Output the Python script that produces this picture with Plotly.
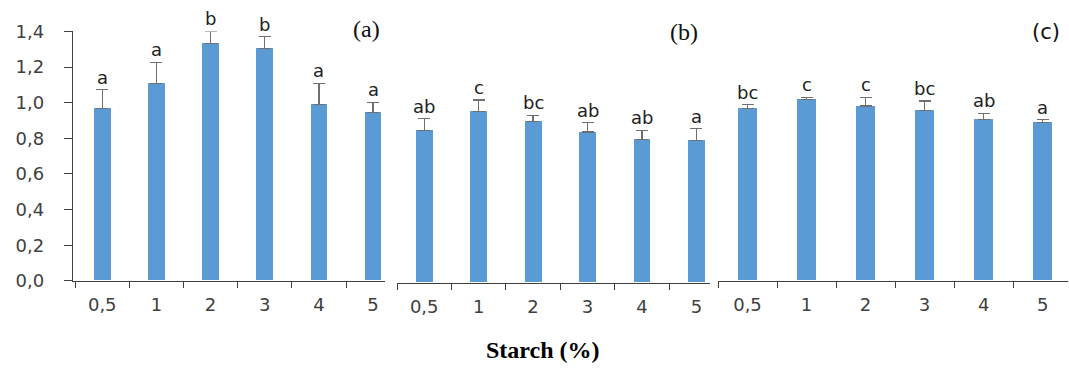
import plotly.graph_objects as go

categories = ["0,5", "1", "2", "3", "4", "5"]

vals_a = [0.968, 1.109, 1.333, 1.303, 0.990, 0.946]
err_a = [0.106, 0.118, 0.067, 0.067, 0.119, 0.057]
let_a = ["a", "a", "b", "b", "a", "a"]

vals_b = [0.853, 0.960, 0.906, 0.847, 0.803, 0.798]
err_b = [0.069, 0.066, 0.033, 0.052, 0.053, 0.067]
let_b = ["ab", "c", "bc", "ab", "ab", "a"]

vals_c = [0.966, 1.018, 0.981, 0.955, 0.906, 0.888]
err_c = [0.023, 0.013, 0.050, 0.055, 0.035, 0.016]
let_c = ["bc", "c", "c", "bc", "ab", "a"]

panel_labels = ["(a)", "(b)", "(c)"]
y_ticks = [0.0, 0.2, 0.4, 0.6, 0.8, 1.0, 1.2, 1.4]

W, H = 1069, 373
BAR = "#5B9BD5"
AX = "#404040"
FONT = "DejaVu Sans"

def px_x(p):
    return p / W

def px_y(p):
    return 1 - p / H

fig = go.Figure()

panels = [
    (vals_a, err_a, let_a, "x", "y"),
    (vals_b, err_b, let_b, "x2", "y2"),
    (vals_c, err_c, let_c, "x3", "y3"),
]
for vals, errs, lets, xa, ya in panels:
    fig.add_trace(go.Bar(
        x=categories, y=vals, xaxis=xa, yaxis=ya, width=0.31,
        marker=dict(color=BAR, line=dict(width=0)), cliponaxis=False,
        error_y=dict(type="data", symmetric=False, array=errs,
                     arrayminus=[0] * len(errs), color="#707070",
                     thickness=1.3, width=6),
        showlegend=False, hoverinfo="skip",
    ))
    for c, v, e, t in zip(categories, vals, errs, lets):
        fig.add_annotation(x=c, y=v + e, xref=xa, yref=ya, text=t,
                           showarrow=False, yanchor="bottom", yshift=0,
                           font=dict(family=FONT, size=18, color="#222"))

YMAX = 1.4
SC = 188.8
xcommon = dict(type="category", showline=True, linecolor=AX, linewidth=1.3,
               ticks="outside", ticklen=6, tickcolor=AX, tickwidth=1.3,
               tickson="boundaries", showgrid=False, zeroline=False,
               tickfont=dict(family=FONT, size=18, color=AX),
               ticklabelstandoff=7, fixedrange=True)

fig.update_layout(
    width=W, height=H, margin=dict(l=0, r=0, t=0, b=0),
    paper_bgcolor="white", plot_bgcolor="white",
    separators=", ", bargap=0,
    xaxis=dict(xcommon, domain=[px_x(73), px_x(385)], range=[-0.54, 5.22], anchor="y"),
    xaxis2=dict(xcommon, domain=[px_x(397), px_x(710)], range=[-0.5, 5.25], anchor="y2"),
    xaxis3=dict(xcommon, domain=[px_x(718), px_x(1068)], range=[-0.5, 5.43], anchor="y3"),
    yaxis=dict(domain=[px_y(286), px_y(286 - YMAX * SC)], range=[0, YMAX],
               tickvals=y_ticks, tickformat=".1f", showline=True, linecolor=AX,
               linewidth=1.3, ticks="outside", ticklen=8, tickcolor=AX, tickwidth=1.3,
               showgrid=False, zeroline=False, anchor="x",
               tickfont=dict(family=FONT, size=18, color=AX), ticklabelstandoff=16),
    yaxis2=dict(domain=[px_y(288), px_y(288 - YMAX * SC)], range=[0, YMAX],
                visible=False, anchor="x2"),
    yaxis3=dict(domain=[px_y(286), px_y(286 - YMAX * SC)], range=[0, YMAX],
                visible=False, anchor="x3"),
)

# panel labels
fig.add_annotation(x=px_x(366), y=px_y(19), xref="paper", yref="paper", text=panel_labels[0],
                   showarrow=False, xanchor="center", yanchor="middle",
                   font=dict(family="Liberation Serif", size=24, color="#111"))
fig.add_annotation(x=px_x(684), y=px_y(22), xref="paper", yref="paper", text=panel_labels[1],
                   showarrow=False, xanchor="center", yanchor="middle",
                   font=dict(family="Liberation Serif", size=24, color="#111"))
fig.add_annotation(x=px_x(1046), y=px_y(22), xref="paper", yref="paper", text=panel_labels[2],
                   showarrow=False, xanchor="center", yanchor="middle",
                   font=dict(family=FONT, size=21, color="#111"))

fig.add_annotation(x=px_x(543), y=px_y(359), xref="paper", yref="paper",
                   text="<b>Starch (%)</b>", showarrow=False,
                   xanchor="center", yanchor="middle",
                   font=dict(family="Liberation Serif", size=24, color="#000"))

fig.write_html("out.html")
